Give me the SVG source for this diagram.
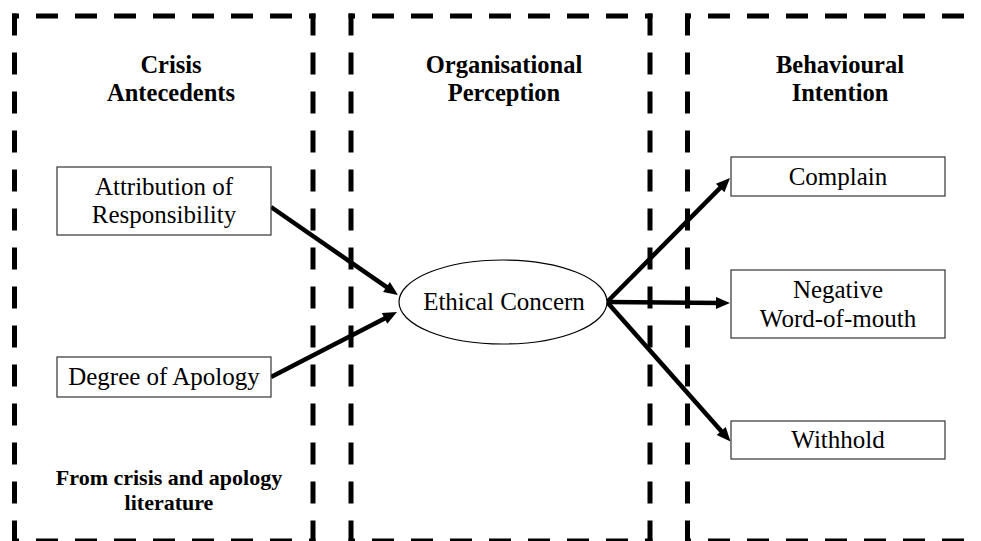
<svg xmlns="http://www.w3.org/2000/svg" width="981" height="541" viewBox="0 0 981 541">
<defs>
<style>
.frame{stroke:#000;stroke-width:5;fill:none;stroke-dasharray:22 17}
.box{fill:#fff;stroke:#333;stroke-width:1.2}
.arr{stroke:#000;stroke-width:4.5;fill:none;marker-end:url(#ah)}
</style>
<marker id="ah" markerUnits="userSpaceOnUse" markerWidth="14" markerHeight="12" refX="6" refY="6" orient="auto" overflow="visible">
<path d="M0,0 L14,6 L0,12 z" fill="#000"/>
</marker>
</defs>
<rect width="981" height="541" fill="#fff"/>
<g id="frames">
<g id="frame-crisis">
<line class="frame" x1="14.5" y1="13.5" x2="14.5" y2="545"/>
<line class="frame" x1="313" y1="13.5" x2="313" y2="545"/>
<line class="frame" x1="12" y1="16" x2="315.5" y2="16" stroke-dashoffset="15"/>
<line class="frame" x1="12" y1="541" x2="315.5" y2="541" stroke-dashoffset="15"/>
</g>
<g id="frame-perception">
<line class="frame" x1="351" y1="13.5" x2="351" y2="545"/>
<line class="frame" x1="650" y1="13.5" x2="650" y2="545"/>
<line class="frame" x1="348.5" y1="16" x2="652.5" y2="16" stroke-dashoffset="15.5"/>
<line class="frame" x1="348.5" y1="541" x2="652.5" y2="541" stroke-dashoffset="15.5"/>
</g>
<g id="frame-behaviour">
<line class="frame" x1="687.5" y1="13.5" x2="687.5" y2="545"/>
<line class="frame" x1="983.5" y1="13.5" x2="983.5" y2="545"/>
<line class="frame" x1="685" y1="16" x2="990" y2="16" stroke-dashoffset="16"/>
<line class="frame" x1="685" y1="541" x2="990" y2="541" stroke-dashoffset="16"/>
</g>
</g>
<g id="headers" font-family="Liberation Serif, Times New Roman, DejaVu Serif, serif" font-weight="bold" text-anchor="middle" fill="#000">
<text font-size="24.5" x="171" y="73">Crisis</text>
<text font-size="24.5" x="171" y="101">Antecedents</text>
<text font-size="24.5" x="504" y="73">Organisational</text>
<text font-size="24.5" x="504" y="101">Perception</text>
<text font-size="24.5" x="840" y="73">Behavioural</text>
<text font-size="24.5" x="840" y="101">Intention</text>
<text font-size="22" x="169" y="485">From crisis and apology</text>
<text font-size="22" x="169" y="510">literature</text>
</g>
<g id="connectors">
<line class="arr" x1="271" y1="207" x2="391.4" y2="290.4"/>
<line class="arr" x1="271" y1="377" x2="389.9" y2="315.7"/>
<line class="arr" x1="607" y1="302" x2="724.4" y2="183.7"/>
<line class="arr" x1="607" y1="302" x2="722" y2="303"/>
<line class="arr" x1="607" y1="302" x2="725.2" y2="435.5"/>
</g>
<g font-family="Liberation Serif, Times New Roman, DejaVu Serif, serif" font-size="25" text-anchor="middle" fill="#000">
<g id="attribution">
<rect class="box" x="57" y="167" width="214" height="68"/>
<text x="164" y="195">Attribution of</text>
<text x="164" y="223">Responsibility</text>
</g>
<g id="apology">
<rect class="box" x="57" y="357" width="214" height="40"/>
<text x="164" y="385">Degree of Apology</text>
</g>
<g id="ethical">
<ellipse cx="503" cy="302" rx="104" ry="42" fill="#fff" stroke="#000" stroke-width="1.2"/>
<text x="504" y="310">Ethical Concern</text>
</g>
<g id="complain">
<rect class="box" x="731" y="157" width="214" height="39"/>
<text x="838" y="185">Complain</text>
</g>
<g id="wom">
<rect class="box" x="731" y="270" width="214" height="68"/>
<text x="838" y="298">Negative</text>
<text x="838" y="327">Word-of-mouth</text>
</g>
<g id="withhold">
<rect class="box" x="731" y="421" width="214" height="38"/>
<text x="838" y="448">Withhold</text>
</g>
</g>
</svg>
